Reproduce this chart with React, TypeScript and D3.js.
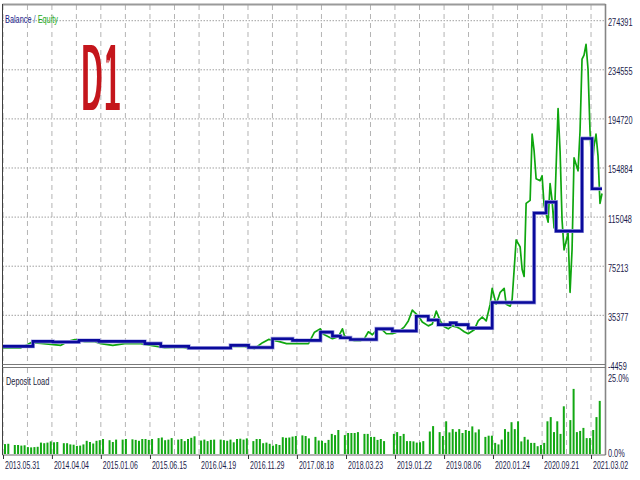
import React from 'react';
import * as d3 from 'd3';

const dateLabels = ['2013.05.31', '2014.04.04', '2015.01.06', '2015.06.15', '2016.04.19', '2016.11.29', '2017.08.18', '2018.03.23', '2019.01.22', '2019.08.06', '2020.01.24', '2020.09.21', '2021.03.02'];
const dateTickIdx = [0, 24.5, 49, 73.6, 98.2, 122.7, 147.2, 171.8, 196.3, 220.9, 245.4, 270, 294.5];
const yTickValues = [274391, 234555, 194720, 154884, 115048, 75213, 35377, -4459];
const loadTickValues = [25, 0];

const balanceIdx = [0, 15, 25, 38, 48, 71, 79, 93, 114, 123, 135, 145, 159, 165, 169, 174, 187, 195, 207, 213, 218, 224, 227, 233, 245, 266, 272, 277, 290, 295, 300];
const balanceVal = [10200, 14200, 13700, 15000, 14200, 12400, 10200, 8900, 11000, 9200, 16400, 15000, 21700, 18500, 17200, 15800, 24400, 22600, 34600, 31600, 27800, 29200, 27800, 25000, 45800, 118400, 127200, 103700, 178800, 138000, 138000];

const equityIdx = [0, 9, 14, 19, 24, 29, 33, 36, 41, 46, 49, 55, 61, 69, 74, 81, 89, 96, 106, 115, 121, 126, 130, 133, 138, 142, 146, 153, 156, 159, 160, 163, 165, 168, 170, 171, 174, 176, 179, 181, 183, 185, 188, 190, 192, 195, 198, 201, 203, 205, 206, 208, 210, 213, 215, 217, 219, 221, 223, 225, 227, 229, 231, 233, 236, 238, 240, 242, 244, 245, 247, 249, 251, 252, 254, 255, 257, 259, 260, 261, 262, 264, 265, 266, 267, 269, 270, 271, 273, 274, 275, 276, 278, 279, 280, 281, 283, 284, 285, 286, 288, 289, 290, 291, 292, 293, 294, 295, 296, 297, 298, 299, 300];
const equityVal = [8900, 9000, 13200, 12500, 11800, 11000, 14500, 15600, 14000, 14000, 12400, 11000, 12400, 12400, 11000, 9200, 9500, 8400, 8400, 10200, 10200, 8400, 13200, 15800, 14200, 12400, 12400, 12400, 21700, 24400, 20400, 18000, 16400, 18000, 24400, 18800, 15600, 14800, 14800, 16400, 22000, 19600, 25200, 23600, 20400, 20400, 22000, 26000, 30800, 39600, 38000, 35000, 30000, 26800, 28400, 38800, 30800, 26000, 24400, 26800, 26000, 24400, 22000, 20400, 23600, 30800, 34000, 30800, 44400, 57200, 44400, 54000, 57200, 44400, 42800, 48400, 96500, 90900, 72500, 66900, 126200, 128600, 182300, 168700, 146200, 144600, 148600, 124600, 111000, 142200, 128600, 106200, 203100, 168700, 112600, 88500, 102100, 54000, 88500, 163100, 152600, 184700, 243200, 246400, 255200, 235200, 184700, 152600, 172700, 182300, 164700, 126200, 134200];

const depositLoad = [
  3.3, 3.4, 0, 3.0, 3.0, 2.8, 2.9, 2.3, 2.2, 2.3,
  2.4, 3.8, 3.6, 3.8, 4.2, 3.9, 4.0, 0, 3.6, 3.6,
  3.2, 3.1, 2.7, 2.8, 3.2, 4.4, 4.0, 3.5, 4.4, 4.6,
  5.0, 0, 4.6, 4.0, 4.8, 0, 4.8, 5.0, 0, 4.9,
  4.7, 4.4, 5.0, 5.0, 4.7, 5.0, 0, 5.3, 5.5, 4.6,
  4.8, 5.3, 0, 4.8, 5.0, 4.3, 5.0, 5.4, 5.9, 0,
  4.5, 4.8, 4.3, 4.7, 4.8, 0, 4.8, 4.6, 4.4, 4.8,
  3.9, 5.0, 5.1, 4.8, 5.2, 0, 4.3, 5.0, 5.0, 3.6,
  3.8, 3.4, 2.8, 3.3, 3.0, 5.6, 5.4, 5.5, 5.8, 6.0,
  0, 6.2, 6.0, 5.2, 0, 5.7, 4.5, 4.4, 3.7, 4.7,
  6.7, 6.3, 8.0, 0, 6.3, 7.0, 7.0, 7.0, 7.3, 0,
  6.7, 6.7, 5.7, 5.7, 4.7, 5.0, 4.3, 0, 0, 6.7,
  7.3, 6.0, 6.7, 4.3, 4.3, 4.2, 3.8, 3.9, 4.3, 0,
  7.5, 9.3, 0, 7.3, 6.0, 10.9, 7.2, 8.3, 7.4, 8.3,
  7.0, 8.0, 7.7, 9.2, 7.2, 8.2, 0, 5.7, 6.1, 6.1,
  3.7, 3.2, 4.8, 8.3, 7.4, 10.6, 8.3, 10.9, 4.2, 5.7,
  4.8, 3.7, 3.7, 2.6, 3.0, 3.7, 10.9, 12.3, 7.3, 10.9,
  6.7, 15.9, 0, 11.3, 21.7, 7.3, 7.7, 8.7, 5.3, 5.3,
  8.0, 12.3, 17.7,
];

const FONT = '"Liberation Sans", Arial, sans-serif';
const TEXT = '#1c1c4c';

export default function App() {
  const W = 640, H = 480;
  const left = 2.5, right = 605.5, top = 5, mainBottom = 364.4, loadTop = 368, loadBottom = 455;

  const x = d3.scaleLinear().domain([0, 300]).range([3, 602]);
  const y = d3.scaleLinear().domain([-4459, 274391]).range([364.4, 20.7]);
  const yl = d3.scaleLinear().domain([0, 25]).range([454, 379]);
  const xb = d3.scaleLinear().domain([0, depositLoad.length - 1]).range([5, 599.75]);

  const balance: [number, number][] = balanceIdx.map((d, i) => [d, balanceVal[i]]);
  const equity: [number, number][] = equityIdx.map((d, i) => [d, equityVal[i]]);
  const lineB = d3.line<[number, number]>().x(d => x(d[0])).y(d => y(d[1])).curve(d3.curveStepAfter);
  const lineE = d3.line<[number, number]>().x(d => x(d[0])).y(d => y(d[1]));

  const gridIdx: number[] = [];
  dateTickIdx.forEach((t, i) => {
    gridIdx.push(t);
    if (i < dateTickIdx.length - 1) gridIdx.push((t + dateTickIdx[i + 1]) / 2);
  });

  return (
    <svg width={W} height={H} style={{ position: 'absolute', left: 0, top: 0, display: 'block', background: '#fff' }}>
      <defs>
        <filter id="thick" x="-20%" y="-5%" width="140%" height="110%">
          <feMorphology operator="dilate" radius="1.4 0.01" />
        </filter>
        <clipPath id="mainClip">
          <rect x={left} y={top} width={right - left} height={mainBottom - top} />
        </clipPath>
      </defs>
      <rect x={0} y={0} width={W} height={H} fill="#fff" />

      {gridIdx.map((g, i) => (
        <g key={'vg' + i}>
          <line x1={x(g)} x2={x(g)} y1={top} y2={mainBottom} stroke="#b4b4b4" strokeDasharray="5,4" />
          <line x1={x(g)} x2={x(g)} y1={loadTop} y2={loadBottom} stroke="#b4b4b4" strokeDasharray="5,4" />
        </g>
      ))}
      {yTickValues.slice(0, -1).map((v, i) => (
        <line key={'hg' + i} x1={left} x2={right} y1={y(v)} y2={y(v)} stroke="#a0a0a0" strokeDasharray="1.5,1.5" />
      ))}

      <g clipPath="url(#mainClip)">
        <path d={lineE(equity) || ''} fill="none" stroke="#0fa60f" strokeWidth={1.7} strokeLinejoin="round" />
        <path d={lineB(balance) || ''} fill="none" stroke="#a4a4e0" strokeWidth={4} />
        <path d={lineB(balance) || ''} fill="none" stroke="#0a0a9c" strokeWidth={2.6} />
      </g>

      {depositLoad.map((v, i) => v > 0 ? (
        <rect key={'b' + i} x={xb(i) - 1} y={yl(v)} width={2} height={yl(0) - yl(v)} fill="#12a812" />
      ) : null)}

      <line x1={left} x2={right} y1={4.5} y2={4.5} stroke="#9a9a9a" strokeWidth={2} />
      <line x1={left} x2={left} y1={4} y2={loadBottom} stroke="#404040" strokeWidth={1} />
      <line x1={right} x2={right} y1={4} y2={loadBottom} stroke="#858585" strokeWidth={1.6} />
      <line x1={left} x2={right} y1={364.5} y2={364.5} stroke="#7a7a7a" strokeWidth={1.2} />
      <line x1={left} x2={right} y1={367.5} y2={367.5} stroke="#7a7a7a" strokeWidth={1.2} />
      <line x1={left} x2={right} y1={loadBottom} y2={loadBottom} stroke="#6a6a6a" strokeWidth={1} />

      {dateTickIdx.map((t, i) => (
        <g key={'dt' + i}>
          <line x1={x(t) + 0.5} x2={x(t) + 0.5} y1={loadBottom} y2={loadBottom + 4} stroke="#333" />
          <text transform={`translate(${x(t) + 2},469) scale(0.7,1)`} fontFamily={FONT} fontSize={10} fill={TEXT}>{dateLabels[i]}</text>
        </g>
      ))}

      {yTickValues.map((v, i) => (
        <text key={'yl' + i} transform={`translate(608,${y(v) + 5.5}) scale(0.7,1)`} fontFamily={FONT} fontSize={10.5} fill={TEXT}>{v}</text>
      ))}
      {loadTickValues.map((v, i) => (
        <text key={'ll' + i} transform={`translate(608,${yl(v) + 3}) scale(0.7,1)`} fontFamily={FONT} fontSize={10.5} fill={TEXT}>{v.toFixed(1) + '%'}</text>
      ))}

      <text transform="translate(5,23) scale(0.7,1)" fontFamily={FONT} fontSize={10.5}>
        <tspan fill="#1c1c8c">Balance</tspan>
        <tspan fill="#3a5aa0"> / </tspan>
        <tspan fill="#22aa22">Equity</tspan>
      </text>
      <text transform="translate(6,385) scale(0.7,1)" fontFamily={FONT} fontSize={10.5} fill="#1a1a3a">Deposit Load</text>

      <g filter="url(#thick)">
        <text transform="translate(82,110) scale(0.29,1)" fontFamily={FONT} fontSize={95} letterSpacing={10} fill="#c4161c">D1</text>
      </g>
    </svg>
  );
}
